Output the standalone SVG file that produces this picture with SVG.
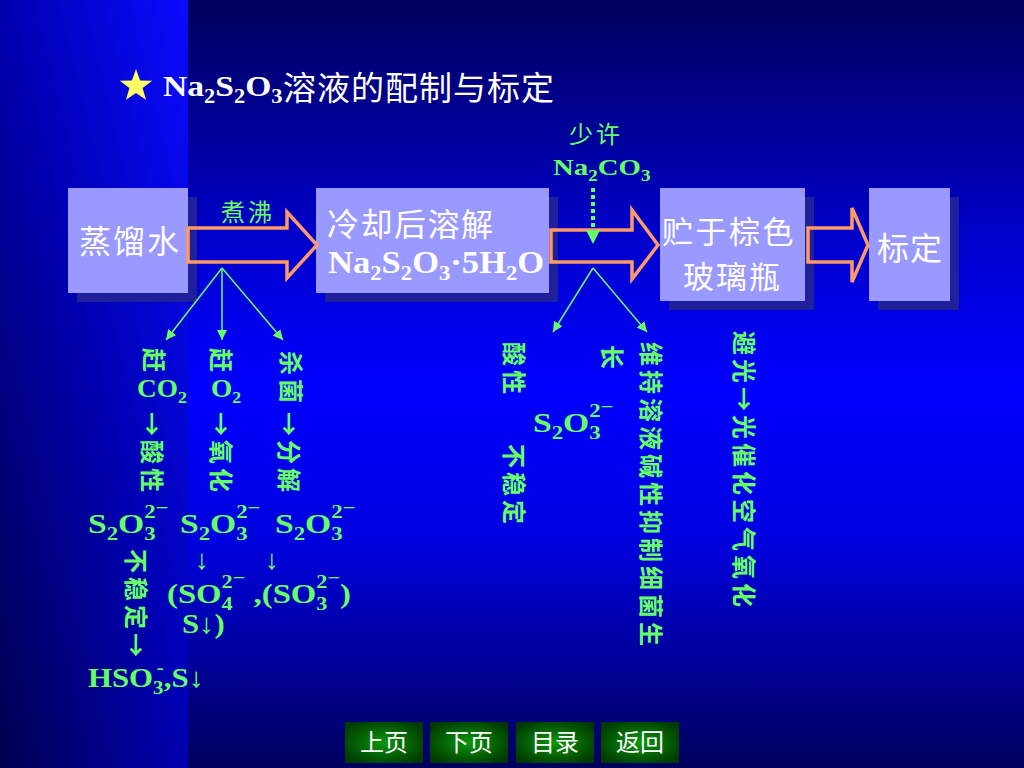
<svg xmlns="http://www.w3.org/2000/svg" width="1024" height="768" viewBox="0 0 1024 768">
<defs>
<linearGradient id="bgMain" x1="0" y1="0" x2="0" y2="1">
<stop offset="0" stop-color="#00005c"/>
<stop offset="0.3" stop-color="#0000c8"/>
<stop offset="0.5" stop-color="#0000ff"/>
<stop offset="0.7" stop-color="#0000e0"/>
<stop offset="1" stop-color="#00005c"/>
</linearGradient>
<linearGradient id="bgStrip" x1="1" y1="0" x2="0" y2="1">
<stop offset="0" stop-color="#0a0aff"/>
<stop offset="0.5" stop-color="#0000b0"/>
<stop offset="1" stop-color="#000050"/>
</linearGradient>
<radialGradient id="btn" cx="0.5" cy="0.5" r="0.6">
<stop offset="0" stop-color="#0c960c"/>
<stop offset="1" stop-color="#003a00"/>
</radialGradient>
<marker id="ah" viewBox="0 0 10 10" refX="10" refY="5" markerWidth="10" markerHeight="10" markerUnits="userSpaceOnUse" orient="auto">
<path d="M0,0 L10,5 L0,10 z" fill="#66ff66"/>
</marker>
<style>
.box{fill:#9999ff}
.shd{fill:#20209a}
.blk{fill:none;stroke:#ff9966;stroke-width:3.5;stroke-linejoin:miter}
.gl{stroke:#66ff66;stroke-width:1.5;fill:none}
.cjk{font-family:"Noto Sans CJK SC",sans-serif}
.wt{fill:#ffffff}
.gr{fill:#66ff66}
.ser{font-family:"Liberation Serif","Times New Roman",serif;font-weight:bold}
.vt{font-family:"Noto Sans CJK SC",sans-serif;font-size:24px;font-weight:bold;letter-spacing:4px;fill:#66ff66;dominant-baseline:central}
.f28{font-size:28px}
.sb{font-size:19px}
.bt{font-family:"Noto Sans CJK SC",sans-serif;font-size:24px;fill:#ffffff;text-anchor:middle}
</style>
</defs>

<g id="background">
<rect x="0" y="0" width="1024" height="768" fill="url(#bgMain)"/>
<rect x="0" y="0" width="188" height="768" fill="url(#bgStrip)"/>
</g>

<g id="title">
<polygon points="136,69 140.1,80.4 152.2,80.7 142.6,88.1 146,99.8 136,92.9 126,99.8 129.4,88.1 119.8,80.7 131.9,80.4" fill="#ffff66"/>
<text class="ser wt" transform="translate(163,96) scale(1.12,1)" font-size="30">Na<tspan font-size="20" dy="7">2</tspan><tspan dy="-7">S</tspan><tspan font-size="20" dy="7">2</tspan><tspan dy="-7">O</tspan><tspan font-size="20" dy="7">3</tspan></text>
<text class="cjk wt" x="283" y="100" font-size="33" letter-spacing="1">溶液的配制与标定</text>
</g>

<g id="n-water">
<rect class="shd" x="77" y="197" width="120" height="105"/>
<rect class="box" x="68" y="188" width="120" height="105"/>
<text class="cjk wt" x="79" y="253" font-size="32" letter-spacing="2">蒸馏水</text>
</g>

<g id="n-dissolve">
<rect class="shd" x="325" y="197" width="233" height="105"/>
<rect class="box" x="316" y="188" width="233" height="105"/>
<text class="cjk wt" x="327" y="236" font-size="32" letter-spacing="1.5">冷却后溶解</text>
<text class="ser wt" transform="translate(328,273) scale(1.08,1)" font-size="32">Na<tspan font-size="21" dy="7">2</tspan><tspan dy="-7">S</tspan><tspan font-size="21" dy="7">2</tspan><tspan dy="-7">O</tspan><tspan font-size="21" dy="7">3</tspan><tspan dy="-7">·5H</tspan><tspan font-size="21" dy="7">2</tspan><tspan dy="-7">O</tspan></text>
</g>

<g id="n-store">
<rect class="shd" x="669" y="197" width="145" height="113"/>
<rect class="box" x="660" y="188" width="145" height="113"/>
<text class="cjk wt" x="662" y="243" font-size="31" letter-spacing="2.5">贮于棕色</text>
<text class="cjk wt" x="683" y="288" font-size="31" letter-spacing="2">玻璃瓶</text>
</g>

<g id="n-calib">
<rect class="shd" x="878" y="197" width="81" height="113"/>
<rect class="box" x="869" y="188" width="81" height="113"/>
<text class="cjk wt" x="877" y="260" font-size="32" letter-spacing="1">标定</text>
</g>

<g id="connectors">
<polygon class="blk" points="188,228 287,228 287,212 317,245 287,278 287,262 188,262"/>
<polygon class="blk" points="551,230 632,230 632,210 658,245 632,279 632,262 551,262"/>
<polygon class="blk" points="808,228 852,228 852,208 868,245 852,282 852,262 808,262"/>
<line x1="593" y1="188" x2="593" y2="231" stroke="#66ff66" stroke-width="4" stroke-dasharray="4 3"/>
<polygon points="586,230 600,230 593,244" fill="#66ff66"/>
<line class="gl" x1="222" y1="268" x2="166" y2="340" marker-end="url(#ah)"/>
<line class="gl" x1="222" y1="268" x2="222" y2="340" marker-end="url(#ah)"/>
<line class="gl" x1="222" y1="268" x2="283" y2="340" marker-end="url(#ah)"/>
<line class="gl" x1="593" y1="268" x2="553" y2="332" marker-end="url(#ah)"/>
<line class="gl" x1="593" y1="268" x2="647" y2="332" marker-end="url(#ah)"/>
</g>

<g id="labels">
<text class="cjk gr" x="221" y="221" font-size="24" letter-spacing="3">煮沸</text>
<text class="cjk gr" x="569" y="143" font-size="24" letter-spacing="3">少许</text>
<text class="ser gr" transform="translate(553,175) scale(1.2,1)" font-size="24">Na<tspan font-size="16" dy="6">2</tspan><tspan dy="-6">CO</tspan><tspan font-size="16" dy="6">3</tspan></text>

<text class="vt" transform="translate(155,348) rotate(90)">赶</text>
<text class="vt" transform="translate(222,348) rotate(90)">赶</text>
<text class="vt" transform="translate(292,351) rotate(90)">杀菌</text>
<text class="ser gr" transform="translate(137,397) scale(1.05,1)" font-size="26">CO<tspan font-size="17" dy="6">2</tspan></text>
<text class="ser gr" transform="translate(211,397) scale(1.05,1)" font-size="26">O<tspan font-size="17" dy="6">2</tspan></text>
<text class="vt" transform="translate(153,412) rotate(90)">→酸性</text>
<text class="vt" transform="translate(222,412) rotate(90)">→氧化</text>
<text class="vt" transform="translate(290,412) rotate(90)">→分解</text>

<text class="ser gr f28" transform="translate(88,533) scale(1.2,1)">S<tspan class="sb" dy="7">2</tspan><tspan dy="-7">O</tspan><tspan class="sb" dy="7">3</tspan><tspan class="sb" dx="-9.5" dy="-22">2</tspan><tspan class="sb" dy="-4">−</tspan></text>
<text class="ser gr f28" transform="translate(180,533) scale(1.2,1)">S<tspan class="sb" dy="7">2</tspan><tspan dy="-7">O</tspan><tspan class="sb" dy="7">3</tspan><tspan class="sb" dx="-9.5" dy="-22">2</tspan><tspan class="sb" dy="-4">−</tspan></text>
<text class="ser gr f28" transform="translate(275,533) scale(1.2,1)">S<tspan class="sb" dy="7">2</tspan><tspan dy="-7">O</tspan><tspan class="sb" dy="7">3</tspan><tspan class="sb" dx="-9.5" dy="-22">2</tspan><tspan class="sb" dy="-4">−</tspan></text>

<text class="vt" transform="translate(137,549) rotate(90)">不稳定→</text>
<text class="ser gr f28" x="202" y="569" text-anchor="middle">↓</text>
<text class="ser gr f28" x="272" y="569" text-anchor="middle">↓</text>
<text class="ser gr f28" transform="translate(167,603) scale(1.17,1)">(SO<tspan class="sb" dy="7">4</tspan><tspan class="sb" dx="-9.5" dy="-22">2</tspan><tspan class="sb" dy="-4">−</tspan><tspan dy="19"> ,(SO</tspan><tspan class="sb" dy="7">3</tspan><tspan class="sb" dx="-9.5" dy="-22">2</tspan><tspan class="sb" dy="-4">−</tspan><tspan dy="19">)</tspan></text>
<text class="ser gr f28" transform="translate(182,633) scale(1.1,1)">S↓)</text>
<text class="ser gr f28" transform="translate(88,687) scale(1.1,1)">HSO<tspan class="sb" dy="7">3</tspan><tspan class="sb" dx="-6" dy="-20">-</tspan><tspan dy="13">,S↓</tspan></text>

<text class="vt" transform="translate(515,342) rotate(90)">酸性</text>
<text class="ser gr f28" transform="translate(533,432) scale(1.2,1)">S<tspan class="sb" dy="7">2</tspan><tspan dy="-7">O</tspan><tspan class="sb" dy="7">3</tspan><tspan class="sb" dx="-9.5" dy="-22">2</tspan><tspan class="sb" dy="-4">−</tspan></text>
<text class="vt" transform="translate(515,444) rotate(90)">不稳定</text>
<text class="vt" transform="translate(652,342) rotate(90)">维持溶液碱性抑制细菌生</text>
<text class="vt" transform="translate(613,345) rotate(90)">长</text>
<text class="vt" transform="translate(745,331) rotate(90)">避光→光催化空气氧化</text>
</g>

<g id="buttons">
<g id="btn-prev"><rect x="345" y="722" width="78" height="41" fill="url(#btn)"/><text class="bt" x="384" y="751">上页</text></g>
<g id="btn-next"><rect x="430" y="722" width="78" height="41" fill="url(#btn)"/><text class="bt" x="469" y="751">下页</text></g>
<g id="btn-toc"><rect x="516" y="722" width="78" height="41" fill="url(#btn)"/><text class="bt" x="555" y="751">目录</text></g>
<g id="btn-back"><rect x="601" y="722" width="78" height="41" fill="url(#btn)"/><text class="bt" x="640" y="751">返回</text></g>
</g>
</svg>
